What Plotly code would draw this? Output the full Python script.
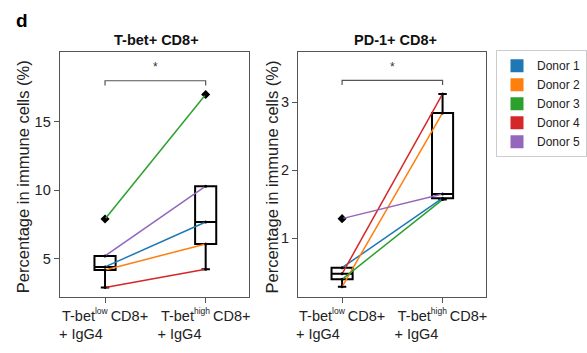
import plotly.graph_objects as go

donors = ["Donor 1", "Donor 2", "Donor 3", "Donor 4", "Donor 5"]
colors = ["#1f77b4", "#ff7f0e", "#2ca02c", "#d62728", "#9467bd"]
NB = "\u00a0"
cat_labels = ["T-bet<sup><span style='font-size:8.5px'>low</span></sup>\u2009CD8+<br>+ IgG4" + NB * 12,
              "T-bet<sup><span style='font-size:8.5px'>high</span></sup>\u2009CD8+<br>+ IgG4" + NB * 13]

# T-bet+ CD8+ panel (per donor: low, high)
tbet_low = [4.4, 4.18, 7.9, 2.9, 5.2]
tbet_high = [7.68, 6.07, 17.0, 4.23, 10.3]
# PD-1+ CD8+ panel
pd1_low = [0.57, 0.29, 0.40, 0.48, 1.29]
pd1_high = [1.59, 2.84, 1.57, 3.12, 1.65]

panel_titles = ["T-bet+ CD8+", "PD-1+ CD8+"]
ytitle = "Percentage in immune cells (%)"

FONT = "Arial, Liberation Sans, sans-serif"
fig = go.Figure()

panels = [(tbet_low, tbet_high, "x", "y"), (pd1_low, pd1_high, "x2", "y2")]
for pi, (low, high, xa, ya) in enumerate(panels):
    fig.add_trace(go.Box(
        x=[0] * len(low) + [1] * len(high), y=low + high,
        xaxis=xa, yaxis=ya, boxpoints="outliers", quartilemethod="inclusive",
        width=0.21, whiskerwidth=0.4, fillcolor="rgba(0,0,0,0)",
        line=dict(color="black", width=2),
        marker=dict(symbol="diamond", color="black", size=7),
        showlegend=False, hoverinfo="skip"))
    for i, d in enumerate(donors):
        fig.add_trace(go.Scatter(
            x=[0, 1], y=[low[i], high[i]], xaxis=xa, yaxis=ya,
            mode="lines+markers", line=dict(color=colors[i], width=1.5),
            marker=dict(color="black", size=3), showlegend=False))

for i, d in enumerate(donors):
    fig.add_trace(go.Scatter(x=[None], y=[None], mode="markers", name=d,
                             marker=dict(symbol="square", size=13, color=colors[i]),
                             showlegend=True))

axis_common = dict(showline=True, mirror=True, linecolor="#555", linewidth=1.2,
                   ticks="outside", ticklen=5, tickcolor="#555", showgrid=False,
                   zeroline=False)
xtick_font = dict(size=14.5, color="#222", family=FONT)
ytick_font = dict(size=14.5, color="#222", family=FONT)

fig.update_layout(
    width=587, height=353, margin=dict(l=0, r=0, t=0, b=0),
    plot_bgcolor="white", paper_bgcolor="white",
    font=dict(family=FONT, color="#222"),
    xaxis=dict(domain=[0.1022, 0.4378], range=[-0.45, 1.434], tickvals=[0, 1],
               ticktext=cat_labels, tickfont=xtick_font, **axis_common),
    yaxis=dict(domain=[0.1586, 0.8527], range=[2.2, 20.1], tickvals=[5, 10, 15],
               tickfont=ytick_font, **axis_common),
    xaxis2=dict(domain=[0.5242, 0.8564], range=[-0.437, 1.431], tickvals=[0, 1],
                ticktext=cat_labels, anchor="y2", tickfont=xtick_font, **axis_common),
    yaxis2=dict(domain=[0.1586, 0.8527], range=[0.14, 3.735], tickvals=[1, 2, 3],
                anchor="x2", tickfont=ytick_font, **axis_common),
    legend=dict(x=0.875, y=0.858, xanchor="left", yanchor="top",
                bordercolor="#ccc", borderwidth=1, bgcolor="white",
                font=dict(size=12, color="#222"), tracegroupgap=0),
    showlegend=True,
)

# y-axis titles
for xp in [22 / 587, 280 / 587]:
    fig.add_annotation(text=ytitle, xref="paper", yref="paper", x=xp, y=1 - 177 / 353,
                       textangle=-90, showarrow=False, xanchor="center", yanchor="middle",
                       font=dict(size=16.5, color="#222"))

# panel titles
fig.add_annotation(text="<b>" + panel_titles[0] + "</b>", xref="paper", yref="paper",
                   x=161 / 587, y=1 - 40 / 353, showarrow=False,
                   font=dict(size=14.5, color="#111"), xanchor="center", yanchor="middle")
fig.add_annotation(text="<b>" + panel_titles[1] + "</b>", xref="paper", yref="paper",
                   x=409 / 587, y=1 - 40 / 353, showarrow=False,
                   font=dict(size=14.5, color="#111"), xanchor="center", yanchor="middle")
fig.add_annotation(text="<b>d</b>", xref="paper", yref="paper", x=0.022, y=1 - 20 / 353,
                   showarrow=False, font=dict(size=19, color="black"),
                   xanchor="left", yanchor="middle")

# significance brackets
for xa, ya, yb, tick, ystar in [("x", "y", 18.0, 0.35, 19.0), ("x2", "y2", 3.32, 0.07, 3.51)]:
    fig.add_shape(type="path", xref=xa, yref=ya,
                  path=f"M 0 {yb - tick} L 0 {yb} L 1 {yb} L 1 {yb - tick}",
                  line=dict(color="#555", width=1.2))
    fig.add_annotation(text="*", xref=xa, yref=ya, x=0.5, y=ystar, showarrow=False,
                       font=dict(size=12, color="#333"), yanchor="middle")

fig.write_html("out.html")
